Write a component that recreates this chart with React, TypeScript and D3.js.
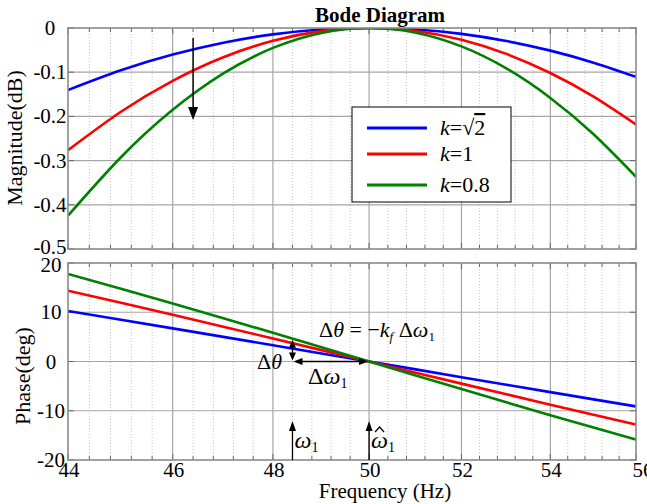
import React from 'react'
import * as d3 from 'd3'

// frequency samples (Hz) and the three responses
const freq = [44, 45, 46, 47, 48, 49, 50, 51, 52, 53, 54, 55, 56]

const magSqrt2 = [-0.1404, -0.0957, -0.0601, -0.0332, -0.0145, -0.0035, 0, -0.0034, -0.0133, -0.0294, -0.0512, -0.0784, -0.1106]
const magK1 = [-0.2764, -0.1894, -0.1194, -0.0661, -0.0289, -0.0071, 0, -0.0068, -0.0267, -0.0586, -0.1019, -0.1555, -0.2185]
const magK08 = [-0.4246, -0.2924, -0.1852, -0.1028, -0.045, -0.0111, 0, -0.0106, -0.0416, -0.0913, -0.1582, -0.2405, -0.3367]

const phSqrt2 = [10.27, 8.49, 6.73, 5.0, 3.31, 1.64, 0, -1.6, -3.18, -4.71, -6.22, -7.69, -9.12]
const phK1 = [14.38, 11.92, 9.48, 7.06, 4.67, 2.31, 0, -2.27, -4.49, -6.65, -8.76, -10.81, -12.8]
const phK08 = [17.77, 14.78, 11.79, 8.8, 5.83, 2.89, 0, -2.83, -5.6, -8.29, -10.9, -13.42, -15.85]

const xTicks = [44, 46, 48, 50, 52, 54, 56]
const magTicks = [0, -0.1, -0.2, -0.3, -0.4, -0.5]
const magTickLabels = ['0', '-0.1', '-0.2', '-0.3', '-0.4', '-0.5']
const phTicks = [20, 10, 0, -10, -20]
const legendLabels = ['√2', '1', '0.8']

const colors = ['#0000ff', '#ff0000', '#008000']

const W = 647
const H = 504
const L = 68
const R = 636
const magTop = 28
const magBottom = 249
const phTop = 263
const phBottom = 460

const font = '"Liberation Serif", "Times New Roman", serif'

const App = () => {
  const x = d3.scaleLog().domain([44, 56]).range([L, R])
  const yMag = d3.scaleLinear().domain([-0.5, 0]).range([magBottom, magTop])
  const yPh = d3.scaleLinear().domain([-20, 20]).range([phBottom, phTop])

  const minor = d3.range(44, 56.001, 0.4).filter((f) => Math.abs(f - Math.round(f / 2) * 2) > 0.05)

  const magLine = (vals: number[]) =>
    d3.line<number>().x((d, i) => x(freq[i])).y((d) => yMag(d)).curve(d3.curveNatural)(vals) || ''
  const phLine = (vals: number[]) =>
    d3.line<number>().x((d, i) => x(freq[i])).y((d) => yPh(d)).curve(d3.curveNatural)(vals) || ''

  const frame = (top: number, bottom: number, yt: number[], ys: (v: number) => number, id: string) => (
    <g>
      {minor.map((f) => (
        <line key={'m' + f} x1={x(f)} x2={x(f)} y1={top} y2={bottom} stroke="#c4c4c4" strokeWidth={1} strokeDasharray="1,2" />
      ))}
      {xTicks.slice(1, -1).map((f) => (
        <line key={'g' + f} x1={x(f)} x2={x(f)} y1={top} y2={bottom} stroke="#a6a6a6" strokeWidth={1.2} />
      ))}
      {yt.slice(1, -1).map((v) => (
        <line key={'h' + v} x1={L} x2={R} y1={ys(v)} y2={ys(v)} stroke="#a6a6a6" strokeWidth={1.2} />
      ))}
      {minor.map((f) => (
        <g key={'t' + f}>
          <line x1={x(f)} x2={x(f)} y1={bottom} y2={bottom - 4} stroke="#666" />
          <line x1={x(f)} x2={x(f)} y1={top} y2={top + 4} stroke="#666" />
        </g>
      ))}
      {xTicks.map((f) => (
        <g key={'T' + f}>
          <line x1={x(f)} x2={x(f)} y1={bottom} y2={bottom - 6} stroke="#666" />
          <line x1={x(f)} x2={x(f)} y1={top} y2={top + 6} stroke="#666" />
        </g>
      ))}
      {yt.map((v) => (
        <g key={'Y' + v}>
          <line x1={L} x2={L + 6} y1={ys(v)} y2={ys(v)} stroke="#666" />
          <line x1={R} x2={R - 6} y1={ys(v)} y2={ys(v)} stroke="#666" />
        </g>
      ))}
      <clipPath id={id}>
        <rect x={L} y={top} width={R - L} height={bottom - top} />
      </clipPath>
    </g>
  )

  const arrowHead = (tx: number, ty: number, dir: 'up' | 'down' | 'left' | 'right', len = 10, half = 4) => {
    let pts: [number, number][] = []
    if (dir === 'down') pts = [[tx, ty], [tx - half, ty - len], [tx + half, ty - len]]
    if (dir === 'up') pts = [[tx, ty], [tx - half, ty + len], [tx + half, ty + len]]
    if (dir === 'left') pts = [[tx, ty], [tx + len, ty - half], [tx + len, ty + half]]
    if (dir === 'right') pts = [[tx, ty], [tx - len, ty - half], [tx - len, ty + half]]
    return <polygon points={pts.map((p) => p.join(',')).join(' ')} fill="#000" />
  }

  const fA = 48.4
  const xA = x(fA)
  const x50 = x(50)
  const y0 = yPh(0)

  return (
    <div style={{ position: 'absolute', left: 0, top: 0 }}>
      <svg width={W} height={H} style={{ display: 'block' }} fontFamily={font}>
        <rect width={W} height={H} fill="#fff" />

        {/* magnitude axes */}
        {frame(magTop, magBottom, magTicks, yMag, 'clipMag')}
        <g clipPath="url(#clipMag)">
          {[magSqrt2, magK1, magK08].map((s, i) => (
            <path key={i} d={magLine(s)} fill="none" stroke={colors[i]} strokeWidth={2.6} />
          ))}
        </g>
        <rect x={L} y={magTop} width={R - L} height={magBottom - magTop} fill="none" stroke="#8a8a8a" strokeWidth={1.6} />
        {magTicks.map((v, i) => (
          <text key={v} x={50} y={yMag(v) + (v === -0.5 ? 5 : 7)} fontSize={21} textAnchor="middle">{magTickLabels[i]}</text>
        ))}
        <text x={380} y={22} fontSize={21} fontWeight="bold" textAnchor="middle">Bode Diagram</text>
        <text transform={`translate(22,${138}) rotate(-90)`} fontSize={22} textAnchor="middle">Magnitude(dB)</text>

        {/* arrow showing decreasing k */}
        <line x1={x(46.4)} x2={x(46.4)} y1={38} y2={108} stroke="#000" strokeWidth={1.5} />
        {arrowHead(x(46.4), 120, 'down', 13, 5)}

        {/* legend */}
        <rect x={352} y={107} width={159} height={95} fill="#fff" stroke="#000" strokeWidth={1} />
        {legendLabels.map((lab, i) => {
          const ly = [128, 154, 185][i]
          return (
            <g key={lab}>
              <line x1={367} x2={427} y1={ly} y2={ly} stroke={colors[i]} strokeWidth={3} />
              <text x={440} y={ly + 7} fontSize={22}>
                <tspan fontStyle="italic">k</tspan>=
                {i === 0 ? (
                  <>
                    √<tspan style={{ textDecoration: 'overline' }}>2</tspan>
                  </>
                ) : (
                  lab
                )}
              </text>
            </g>
          )
        })}

        {/* phase axes */}
        {frame(phTop, phBottom, phTicks, yPh, 'clipPh')}
        <g clipPath="url(#clipPh)">
          {[phSqrt2, phK1, phK08].map((s, i) => (
            <path key={i} d={phLine(s)} fill="none" stroke={colors[i]} strokeWidth={2.6} />
          ))}
        </g>
        <rect x={L} y={phTop} width={R - L} height={phBottom - phTop} fill="none" stroke="#8a8a8a" strokeWidth={1.6} />
        {phTicks.map((v) => (
          <text key={v} x={51} y={yPh(v) + (v === 20 ? 9 : 7)} fontSize={21} textAnchor="middle">{v}</text>
        ))}
        <text transform={`translate(30,${376}) rotate(-90)`} fontSize={22} textAnchor="middle">Phase(deg)</text>

        {xTicks.map((f) => (
          <text key={f} x={x(f) + (f === 56 ? 7 : 1)} y={477} fontSize={21} textAnchor="middle">{f}</text>
        ))}
        <text x={385} y={498} fontSize={21} textAnchor="middle">Frequency  (Hz)</text>

        {/* annotations */}
        <text x={319} y={337} fontSize={22}>
          Δ<tspan fontStyle="italic">θ</tspan> = −<tspan fontStyle="italic">k</tspan>
          <tspan fontStyle="italic" fontSize={13} dy={4}>f</tspan>
          <tspan dy={-4}> Δ</tspan>
          <tspan fontStyle="italic">ω</tspan>
          <tspan fontSize={13} dy={4}>1</tspan>
        </text>

        {/* Δθ vertical double arrow */}
        <line x1={xA} x2={xA} y1={yPh(4.4) + 6} y2={y0 - 6} stroke="#000" strokeWidth={1.3} />
        {arrowHead(xA, yPh(4.4), 'up', 8, 3.5)}
        {arrowHead(xA, y0 - 1, 'down', 8, 3.5)}
        <text x={257} y={369} fontSize={22}>
          Δ<tspan fontStyle="italic">θ</tspan>
        </text>

        {/* Δω horizontal double arrow */}
        <line x1={xA + 4} x2={x50 - 4} y1={y0} y2={y0} stroke="#000" strokeWidth={1.3} />
        {arrowHead(xA + 1, y0, 'left', 9, 3.5)}
        {arrowHead(x50 - 1, y0, 'right', 9, 3.5)}
        <text x={308} y={384} fontSize={24}>
          Δ<tspan fontStyle="italic">ω</tspan>
          <tspan fontSize={14} dy={4}>1</tspan>
        </text>

        {/* ω1 and ω̂1 markers */}
        {[xA, x50].map((px, i) => (
          <g key={i}>
            <line x1={px} x2={px} y1={430} y2={phBottom} stroke="#000" strokeWidth={1.3} />
            {arrowHead(px, 421, 'up', 10, 3.5)}
            <text x={px + 2} y={448} fontSize={24}>
              <tspan fontStyle="italic">ω</tspan>
              <tspan fontSize={14} dy={4}>1</tspan>
            </text>
            {i === 1 && (
              <path d={`M${px + 6},${432} L${px + 10.5},${427} L${px + 15},${432}`} fill="none" stroke="#000" strokeWidth={1.2} />
            )}
          </g>
        ))}
      </svg>
    </div>
  )
}

export default App
